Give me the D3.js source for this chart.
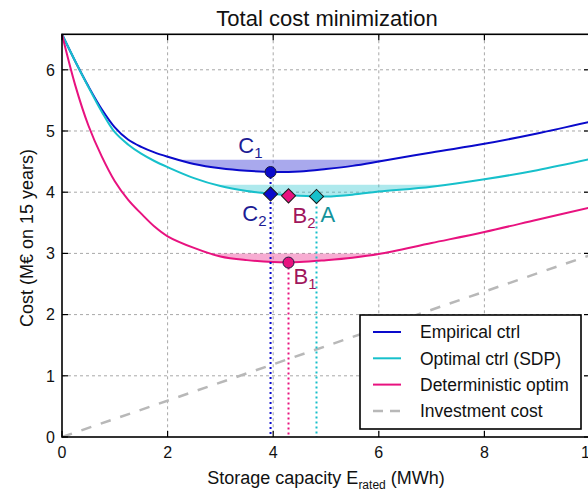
<!DOCTYPE html>
<html>
<head>
<meta charset="utf-8">
<script src="https://cdn.jsdelivr.net/npm/d3@7"></script>
<style>
  body { margin: 0; background: #fff; }
  svg { display: block; font-family: "Liberation Sans", Arial, Helvetica, sans-serif; }
</style>
</head>
<body>
<svg id="chart" width="588" height="493"></svg>
<script>
// Storage capacity grid (MWh)
const capacity = [0, 0.25, 0.5, 0.75, 1, 1.25, 1.5, 1.75, 2, 2.5, 3, 3.5, 4, 4.5, 5, 5.5, 6, 7, 8, 9, 10];
// Total cost over 15 years (M€) for each control strategy
const empiricalCost     = [6.58, 6.14, 5.73, 5.36, 5.06, 4.86, 4.74, 4.65, 4.58, 4.46, 4.39, 4.35, 4.33, 4.34, 4.38, 4.43, 4.50, 4.65, 4.79, 4.96, 5.15];
const optimalCost       = [6.58, 6.14, 5.72, 5.32, 4.98, 4.78, 4.63, 4.51, 4.41, 4.23, 4.10, 4.02, 3.97, 3.94, 3.93, 3.96, 4.01, 4.09, 4.21, 4.36, 4.54];
const deterministicCost = [6.58, 5.75, 5.09, 4.59, 4.18, 3.88, 3.65, 3.44, 3.28, 3.09, 2.95, 2.89, 2.86, 2.86, 2.89, 2.93, 2.99, 3.17, 3.35, 3.55, 3.75];
// Investment cost alone (linear in capacity)
const investmentCapacity = [0, 10];
const investmentCost     = [0, 2.97];

// Cost level bounding the near-optimal zone of each curve (M€)
const nearOptimalLevel = { empirical: 4.53, optimal: 4.12, deterministic: 3.0 };

// Highlighted optima
const optimaNames = ["C", "C", "B", "A", "B"];
const optimaSubs  = ["1", "2", "2", "", "1"];
const optimaX     = [3.95, 3.95, 4.29, 4.82, 4.29];
const optimaY     = [4.33, 3.97, 3.94, 3.93, 2.85];

const xTicks = [0, 2, 4, 6, 8, 10];
const yTicks = [0, 1, 2, 3, 4, 5, 6];
const legendLabels = ["Empirical ctrl", "Optimal ctrl (SDP)", "Deterministic optim", "Investment cost"];

const colors = {
  empirical: "#0a0acb",
  optimal: "#17c0cb",
  deterministic: "#e8127f",
  investment: "#b8b8b8"
};
const labelColors = { C: "#1c1c94", B: "#a0165c", A: "#13929a" };

const svg = d3.select("#chart");
const W = 588, H = 493;
const plotL = 62, plotR = 590, plotT = 34.3, plotB = 437;

const x = d3.scaleLinear().domain([0, 10]).range([plotL, plotR]);
const y = d3.scaleLinear().domain([0, 6.58]).range([plotB, plotT]);

svg.append("rect").attr("width", W).attr("height", H).attr("fill", "#fff");

// Grid
const grid = svg.append("g").attr("stroke", "#a8a8a8").attr("stroke-width", 1).attr("stroke-dasharray", "3,3");
xTicks.filter(t => t > 0 && t < 10).forEach(t => {
  grid.append("line").attr("x1", x(t)).attr("x2", x(t)).attr("y1", plotT).attr("y2", plotB);
});
yTicks.filter(t => t > 0).forEach(t => {
  grid.append("line").attr("x1", plotL).attr("x2", plotR).attr("y1", y(t)).attr("y2", y(t));
});

const series = [
  { key: "empirical", values: empiricalCost },
  { key: "optimal", values: optimalCost },
  { key: "deterministic", values: deterministicCost }
];

const curveType = d3.curveCatmullRom.alpha(0.5);
const defs = svg.append("defs");

// Near-optimal bands: region above each curve, clipped below its level
series.forEach(s => {
  const pts = capacity.map((c, i) => [c, s.values[i]]);
  const clipId = "band-" + s.key;
  defs.append("clipPath").attr("id", clipId)
    .append("rect")
    .attr("x", plotL).attr("width", plotR - plotL)
    .attr("y", y(nearOptimalLevel[s.key]))
    .attr("height", plotB - y(nearOptimalLevel[s.key]));
  const area = d3.area()
    .x(d => x(d[0]))
    .y0(d => y(d[1]))
    .y1(plotT)
    .curve(curveType);
  svg.append("path")
    .datum(pts)
    .attr("d", area)
    .attr("fill", colors[s.key])
    .attr("fill-opacity", 0.35)
    .attr("clip-path", `url(#${clipId})`);
});

// Investment cost
const straight = d3.line().x(d => x(d[0])).y(d => y(d[1]));
svg.append("path")
  .datum(investmentCapacity.map((c, i) => [c, investmentCost[i]]))
  .attr("d", straight)
  .attr("fill", "none")
  .attr("stroke", colors.investment)
  .attr("stroke-width", 2.5)
  .attr("stroke-dasharray", "10.5,10");

// Cost curves
const line = d3.line().x(d => x(d[0])).y(d => y(d[1])).curve(curveType);
series.forEach(s => {
  svg.append("path")
    .datum(capacity.map((c, i) => [c, s.values[i]]))
    .attr("d", line)
    .attr("fill", "none")
    .attr("stroke", colors[s.key])
    .attr("stroke-width", 2);
});

// Drop lines from the optima to the capacity axis
const drops = [
  { i: 0, color: colors.empirical },
  { i: 4, color: colors.deterministic },
  { i: 3, color: colors.optimal }
];
drops.forEach(d => {
  svg.append("line")
    .attr("x1", x(optimaX[d.i])).attr("x2", x(optimaX[d.i]))
    .attr("y1", y(optimaY[d.i])).attr("y2", plotB)
    .attr("stroke", d.color)
    .attr("stroke-width", 2)
    .attr("stroke-dasharray", "2,3");
});

// Markers
const markerFill = [colors.empirical, colors.empirical, colors.deterministic, colors.optimal, colors.deterministic];
const markerShape = ["circle", "diamond", "diamond", "diamond", "circle"];
optimaX.forEach((cx, i) => {
  const px = x(cx), py = y(optimaY[i]);
  if (markerShape[i] === "circle") {
    svg.append("circle").attr("cx", px).attr("cy", py).attr("r", 5.5)
      .attr("fill", markerFill[i]).attr("stroke", "#1a1a40").attr("stroke-width", 1);
  } else {
    svg.append("rect").attr("x", -5).attr("y", -5).attr("width", 10).attr("height", 10)
      .attr("transform", `translate(${px},${py}) rotate(45)`)
      .attr("fill", markerFill[i]).attr("stroke", "#1a1a1a").attr("stroke-width", 1);
  }
});

// Marker labels
const labelOffset = [[-8, -19, "end"], [-4, 27, "end"], [4, 27, "start"], [4, 26, "start"], [5, 21, "start"]];
optimaX.forEach((cx, i) => {
  const [dx, dy, anchor] = labelOffset[i];
  const t = svg.append("text")
    .attr("x", x(cx) + dx).attr("y", y(optimaY[i]) + dy)
    .attr("text-anchor", anchor)
    .attr("fill", labelColors[optimaNames[i]])
    .attr("font-size", 22);
  t.append("tspan").text(optimaNames[i]);
  if (optimaSubs[i]) {
    t.append("tspan").attr("font-size", 15).attr("dy", 5).text(optimaSubs[i]);
  }
});

// Frame
const frame = svg.append("g").attr("stroke", "#000").attr("stroke-width", 1.6).attr("fill", "none");
frame.append("rect").attr("x", plotL).attr("y", plotT).attr("width", plotR - plotL).attr("height", plotB - plotT);

// Inward ticks on all four sides
const ticks = svg.append("g").attr("stroke", "#000").attr("stroke-width", 1.2);
const tl = 6;
xTicks.forEach(t => {
  ticks.append("line").attr("x1", x(t)).attr("x2", x(t)).attr("y1", plotB).attr("y2", plotB - tl);
  ticks.append("line").attr("x1", x(t)).attr("x2", x(t)).attr("y1", plotT).attr("y2", plotT + tl);
});
yTicks.forEach(t => {
  ticks.append("line").attr("x1", plotL).attr("x2", plotL + tl).attr("y1", y(t)).attr("y2", y(t));
  ticks.append("line").attr("x1", plotR).attr("x2", plotR - tl).attr("y1", y(t)).attr("y2", y(t));
});

// Tick labels
const tickFont = 16;
xTicks.forEach(t => {
  svg.append("text").attr("x", x(t)).attr("y", 458).attr("text-anchor", "middle")
    .attr("font-size", tickFont).attr("fill", "#111").text(t);
});
yTicks.forEach(t => {
  svg.append("text").attr("x", 55).attr("y", y(t)).attr("dy", "0.36em").attr("text-anchor", "end")
    .attr("font-size", tickFont).attr("fill", "#111").text(t);
});

// Axis titles
const xl = svg.append("text").attr("x", 326).attr("y", 484).attr("text-anchor", "middle")
  .attr("font-size", 18).attr("fill", "#111");
xl.append("tspan").text("Storage capacity E");
xl.append("tspan").attr("font-size", 12).attr("dy", 5).text("rated");
xl.append("tspan").attr("dy", -5).text(" (MWh)");

svg.append("text").attr("transform", "translate(33,238) rotate(-90)")
  .attr("text-anchor", "middle").attr("font-size", 18).attr("fill", "#111")
  .text("Cost (M€ on 15 years)");

svg.append("text").attr("x", 327).attr("y", 26).attr("text-anchor", "middle")
  .attr("font-size", 22).attr("fill", "#111").text("Total cost minimization");

// Legend
const lg = svg.append("g");
lg.append("rect").attr("x", 360).attr("y", 315).attr("width", 221).attr("height", 114)
  .attr("fill", "#fff").attr("stroke", "#000").attr("stroke-width", 1.6);
const legendColors = [colors.empirical, colors.optimal, colors.deterministic, colors.investment];
legendLabels.forEach((lab, i) => {
  const ly = 332 + i * 26.3;
  lg.append("line").attr("x1", 373).attr("x2", 401).attr("y1", ly).attr("y2", ly)
    .attr("stroke", legendColors[i]).attr("stroke-width", i === 3 ? 2.5 : 2)
    .attr("stroke-dasharray", i === 3 ? "10,7" : null);
  lg.append("text").attr("x", 420).attr("y", ly).attr("dy", "0.36em")
    .attr("font-size", 17.5).attr("fill", "#111").text(lab);
});
</script>
</body>
</html>
